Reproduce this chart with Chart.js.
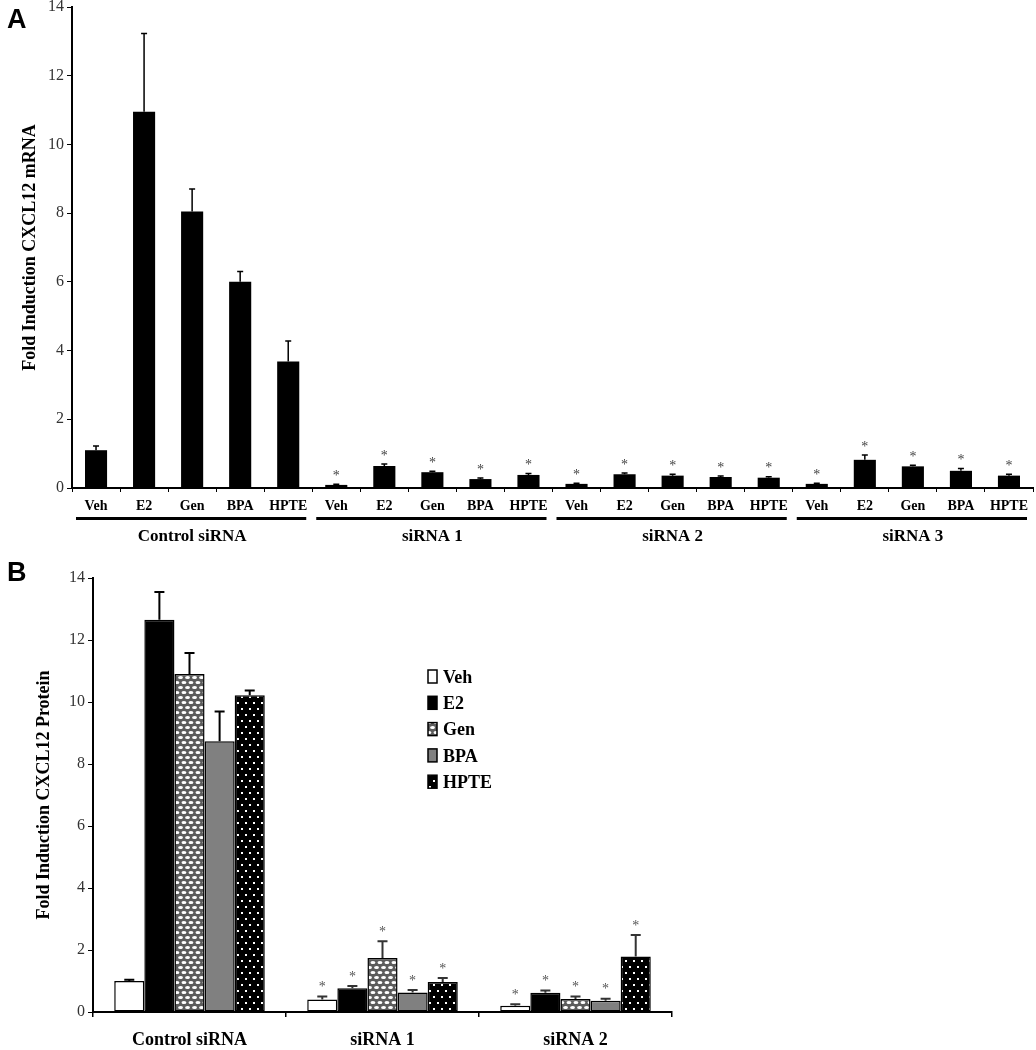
<!DOCTYPE html>
<html><head><meta charset="utf-8">
<script src="https://cdn.jsdelivr.net/npm/chart.js@4.4.1/dist/chart.umd.min.js"></script>
<style>
html,body{margin:0;padding:0;background:#fff;}
body{width:1036px;height:1050px;position:relative;overflow:hidden;}
.panel{position:absolute;left:0;width:1036px;}
#wrapA{top:0;height:550px;}
#wrapB{top:550px;height:500px;}
.letter{position:absolute;z-index:2;font-family:'Liberation Sans',Arial,sans-serif;font-weight:bold;font-size:27px;line-height:1;color:#000;}
</style></head><body>
<div class="panel" id="wrapA"><canvas id="chartA" width="1036" height="550"></canvas></div>
<div class="panel" id="wrapB"><canvas id="chartB" width="1036" height="500"></canvas></div>
<div class="letter" style="left:7px;top:6px">A</div>
<div class="letter" style="left:7px;top:559px">B</div>
<script>
// ---------- Panel A data ----------
const aLabels = ['Veh','E2','Gen','BPA','HPTE','Veh','E2','Gen','BPA','HPTE','Veh','E2','Gen','BPA','HPTE','Veh','E2','Gen','BPA','HPTE'];
const aGroups = ['Control siRNA','siRNA 1','siRNA 2','siRNA 3'];
const aValues = [1.10,10.95,8.05,6.00,3.68, 0.09,0.64,0.46,0.26,0.38, 0.12,0.40,0.36,0.32,0.30, 0.12,0.82,0.63,0.50,0.36];
const aErrors = [0.12,2.28,0.65,0.30,0.60, 0.02,0.06,0.03,0.03,0.04, 0.02,0.04,0.04,0.03,0.03, 0.02,0.14,0.03,0.07,0.04];
const aSignif = [0,0,0,0,0, 1,1,1,1,1, 1,1,1,1,1, 1,1,1,1,1];
const yTicks = [0,2,4,6,8,10,12,14];

// ---------- Panel B data ----------
const bGroups = ['Control siRNA','siRNA 1','siRNA 2'];
const bTreatments = ['Veh','E2','Gen','BPA','HPTE'];
const bVeh  = [1.00, 0.40, 0.20];
const bE2   = [12.65, 0.77, 0.62];
const bGen  = [10.90, 1.74, 0.42];
const bBPA  = [8.73, 0.63, 0.36];
const bHPTE = [10.22, 0.97, 1.79];
const bVehErr  = [0.04, 0.10, 0.05];
const bE2Err   = [0.90, 0.07, 0.07];
const bGenErr  = [0.68, 0.54, 0.08];
const bBPAErr  = [0.96, 0.08, 0.07];
const bHPTEErr = [0.15, 0.13, 0.69];
const bSignif  = [0, 1, 1];

const SERIF = "'Liberation Serif','Times New Roman',serif";

function makeGenPattern(){
  const c=document.createElement('canvas'); c.width=7; c.height=10;
  const g=c.getContext('2d');
  g.fillStyle='#5c5c5c'; g.fillRect(0,0,7,10);
  g.fillStyle='#ffffff';
  [[2,2.5],[5.5,7.5],[-1.5,7.5],[9,2.5]].forEach(([x,y])=>{g.beginPath();g.ellipse(x,y,2.4,1.6,0,0,Math.PI*2);g.fill();});
  return g.createPattern(c,'repeat');
}
function makeDotPattern(){
  const c=document.createElement('canvas'); c.width=8; c.height=12;
  const g=c.getContext('2d');
  g.fillStyle='#000'; g.fillRect(0,0,8,12);
  g.fillStyle='#fff';
  g.fillRect(1,2,2,2); g.fillRect(5,8,2,2);
  return g.createPattern(c,'repeat');
}
const genPat = makeGenPattern();
const dotPat = makeDotPattern();

const errorBarPlugin = {
  id:'errbars',
  afterDatasetsDraw(chart, args, opts){
    const ctx=chart.ctx, ys=chart.scales.y;
    chart.data.datasets.forEach((ds,di)=>{
      const meta=chart.getDatasetMeta(di);
      meta.data.forEach((bar,i)=>{
        const v=ds.data[i], e=ds.errors[i];
        const x=bar.x, y0=ys.getPixelForValue(v), y1=ys.getPixelForValue(v+e);
        ctx.save();
        ctx.strokeStyle = ds.signif[i] ? opts.sigColor : opts.color;
        ctx.lineWidth=opts.width;
        ctx.beginPath(); ctx.moveTo(x,y0); ctx.lineTo(x,y1);
        ctx.moveTo(x-opts.cap,y1); ctx.lineTo(x+opts.cap,y1); ctx.stroke();
        if(ds.signif[i]){
          ctx.fillStyle=opts.starColor; ctx.font=opts.starFont;
          ctx.textAlign='center'; ctx.textBaseline='middle';
          ctx.fillText('*', x, y1-opts.starGap);
        }
        ctx.restore();
      });
    });
  }
};

const underlinePlugin = {
  id:'underline',
  afterDraw(chart){
    const ctx=chart.ctx, xs=chart.scales.x;
    const w = xs.getPixelForValue(1)-xs.getPixelForValue(0);
    ctx.save(); ctx.fillStyle='#000';
    aGroups.forEach((g,gi)=>{
      const l=xs.getPixelForValue(gi*5)-w/2+4, r=xs.getPixelForValue(gi*5+4)+w/2-6;
      ctx.fillRect(l, xs.bottom-1, r-l, 3);
    });
    ctx.restore();
  }
};

const legendPlugin = {
  id:'customLegend',
  afterDraw(chart){
    const ctx=chart.ctx;
    ctx.save();
    chart.data.datasets.forEach((ds,i)=>{
      const x=428, y=120+i*26.3;
      ctx.fillStyle=ds.backgroundColor; ctx.fillRect(x,y,9,13);
      ctx.strokeStyle='#000'; ctx.lineWidth=1.5; ctx.strokeRect(x,y,9,13);
      ctx.fillStyle='#000'; ctx.font='bold 18px '+SERIF;
      ctx.textAlign='left'; ctx.textBaseline='middle';
      ctx.fillText(ds.label, x+15, y+8);
    });
    ctx.restore();
  }
};

function fixY(width){ return function(s){ s.width=width; s.paddingTop=0; s.paddingBottom=0; }; }
function fixX(height){ return function(s){ s.height=height; s.paddingLeft=0; s.paddingRight=0; }; }

Chart.defaults.font.family = SERIF;
Chart.defaults.color = '#000';

new Chart(document.getElementById('chartA'), {
  type:'bar',
  data:{ labels:aLabels, datasets:[{ label:'CXCL12 mRNA', data:aValues, errors:aErrors, signif:aSignif,
    backgroundColor:'#000', borderWidth:0, barPercentage:0.46, categoryPercentage:1 }]},
  options:{
    responsive:false, animation:false, devicePixelRatio:1,
    layout:{padding:{left:0,top:7,right:3,bottom:0}},
    plugins:{legend:{display:false}, tooltip:{enabled:false},
      errbars:{color:'#000', sigColor:'#000', width:1.5, cap:3, starColor:'#444', starFont:'14px '+SERIF, starGap:8}},
    scales:{
      x:{ type:'category', position:'bottom', weight:0, offset:true, afterFit:fixX(30),
        grid:{display:true, drawOnChartArea:false, offset:true, tickLength:4, color:'#000', lineWidth:1},
        border:{display:true, color:'#000', width:2},
        ticks:{autoSkip:false, maxRotation:0, padding:6, font:{family:SERIF, size:14, weight:'bold'}, color:'#000'} },
      x2:{ type:'category', labels:aGroups, position:'bottom', weight:1, offset:true, afterFit:fixX(32),
        grid:{display:false}, border:{display:false},
        ticks:{autoSkip:false, maxRotation:0, padding:0, font:{family:SERIF, size:17, weight:'bold'}, color:'#000'} },
      y:{ min:0, max:14, afterFit:fixY(72),
        afterBuildTicks:(s)=>{ s.ticks = yTicks.map(v=>({value:v})); },
        grid:{display:true, drawOnChartArea:false, tickLength:5, color:'#000'},
        border:{display:true, color:'#000', width:2},
        ticks:{padding:3, font:{family:SERIF, size:16}, color:'#333'},
        title:{display:true, text:'Fold Induction CXCL12 mRNA', padding:{top:20,bottom:0}, font:{family:SERIF, size:18, weight:'bold'}, color:'#000'} }
    }
  },
  plugins:[errorBarPlugin, underlinePlugin]
});

const bFills = ['#ffffff','#000000',genPat,'#808080',dotPat];
const bSeries = [bVeh,bE2,bGen,bBPA,bHPTE];
const bErrs = [bVehErr,bE2Err,bGenErr,bBPAErr,bHPTEErr];
new Chart(document.getElementById('chartB'), {
  type:'bar',
  data:{ labels:bGroups, datasets: bTreatments.map((t,i)=>({ label:t, data:bSeries[i], errors:bErrs[i], signif:bSignif,
    backgroundColor:bFills[i], borderColor:'#000', borderWidth:1.5, borderSkipped:false,
    barPercentage:1, categoryPercentage:0.78 })) },
  options:{
    responsive:false, animation:false, devicePixelRatio:1,
    layout:{padding:{left:0,top:28,right:364,bottom:0}},
    plugins:{legend:{display:false}, tooltip:{enabled:false},
      errbars:{color:'#000', sigColor:'#333', width:2, cap:5, starColor:'#555', starFont:'14px '+SERIF, starGap:9}},
    scales:{
      x:{ type:'category', offset:true, afterFit:fixX(38),
        grid:{display:true, drawOnChartArea:false, offset:true, tickLength:5, color:'#000', lineWidth:1.5},
        border:{display:true, color:'#000', width:2},
        ticks:{autoSkip:false, maxRotation:0, padding:13, font:{family:SERIF, size:18, weight:'bold'}, color:'#000'} },
      y:{ min:0, max:14, afterFit:fixY(93),
        afterBuildTicks:(s)=>{ s.ticks = yTicks.map(v=>({value:v})); },
        grid:{display:true, drawOnChartArea:false, tickLength:5, color:'#000'},
        border:{display:true, color:'#000', width:2},
        ticks:{padding:3, font:{family:SERIF, size:16}, color:'#333'},
        title:{display:true, text:'Fold Induction CXCL12 Protein', padding:{top:34,bottom:0}, font:{family:SERIF, size:18, weight:'bold'}, color:'#000'} }
    }
  },
  plugins:[errorBarPlugin, legendPlugin]
});
</script>
</body></html>
